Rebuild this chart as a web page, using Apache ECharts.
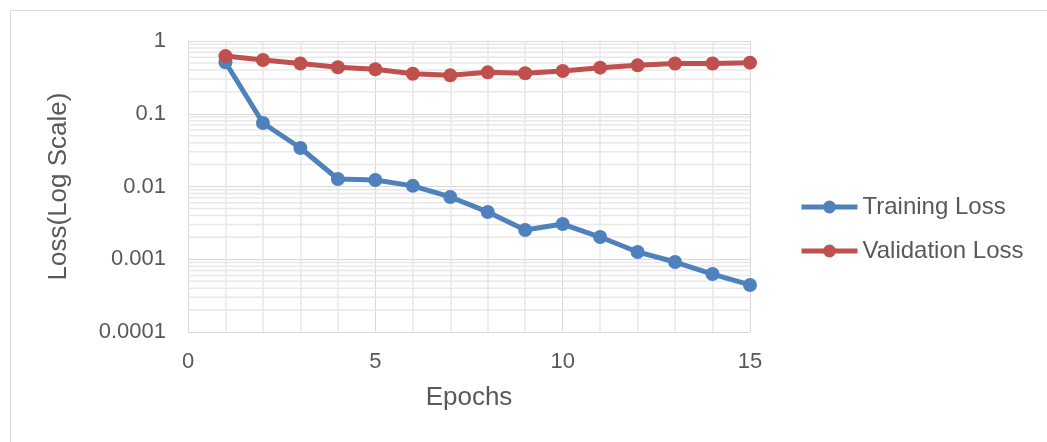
<!DOCTYPE html>
<html>
<head>
<meta charset="utf-8">
<script src="https://cdn.jsdelivr.net/npm/echarts@6/dist/echarts.min.js"></script>
<style>
html,body{margin:0;padding:0;background:#fff;}
#frame{position:absolute;left:10px;top:10px;width:1037px;height:432px;border-top:1px solid #d9d9d9;border-left:1px solid #d9d9d9;}
#chart{position:absolute;left:0;top:0;width:1047px;height:442px;}
</style>
</head>
<body>
<div id="frame"></div>
<div id="chart"></div>
<script>
var epochs = [1,2,3,4,5,6,7,8,9,10,11,12,13,14,15];
var trainingLoss = [0.51,0.0746,0.0338,0.0127,0.0123,0.0102,0.00718,0.00447,0.00252,0.00305,0.00202,0.00126,0.000916,0.000626,0.000443];
var validationLoss = [0.62,0.548,0.49,0.435,0.408,0.355,0.337,0.371,0.36,0.387,0.43,0.463,0.49,0.49,0.504];
var yTickValues = [0.0001,0.001,0.01,0.1,1];
var yTickLabels = ['0.0001','0.001','0.01','0.1','1'];
var xTickLabels = ['0','5','10','15'];

var textColor = '#595959';
var fontFamily = '"Liberation Sans", Arial, sans-serif';
var X_MIN = 0, X_MAX = 15;

// minor log gridlines at 2..9 x 10^k within each decade
var minorGrid = [];
for (var d = 0; d < yTickValues.length - 1; d++) {
  for (var m = 2; m <= 9; m++) {
    minorGrid.push([X_MIN, yTickValues[d] * m]);
  }
}

function pair(xs, ys) { return xs.map(function (x, i) { return [x, ys[i]]; }); }

var chart = echarts.init(document.getElementById('chart'), null, { renderer: 'canvas' });
chart.setOption({
  backgroundColor: 'transparent',
  animation: false,
  textStyle: { fontFamily: fontFamily, color: textColor },
  grid: { left: 188, right: 297, top: 41, bottom: 110, containLabel: false },
  legend: {
    orient: 'vertical',
    left: 799,
    top: 195,
    padding: 0,
    itemWidth: 56,
    itemHeight: 16,
    itemGap: 20,
    data: ['Training Loss', 'Validation Loss'],
    lineStyle: { width: 5 },
    textStyle: { fontSize: 24, color: textColor, fontFamily: fontFamily }
  },
  xAxis: {
    type: 'value',
    min: X_MIN,
    max: X_MAX,
    interval: 5,
    name: 'Epochs',
    nameLocation: 'middle',
    nameGap: 53,
    nameTextStyle: { fontSize: 26, color: textColor, fontFamily: fontFamily },
    axisLine: { show: false },
    axisTick: { show: false },
    axisLabel: {
      fontSize: 22, color: textColor, margin: 19,
      formatter: function (v) { var i = Math.round(v / 5); return xTickLabels[i] !== undefined ? xTickLabels[i] : String(v); }
    },
    splitLine: { show: true, lineStyle: { color: '#d9d9d9', width: 1 } },
    minorTick: { show: false, splitNumber: 5 },
    minorSplitLine: { show: true, lineStyle: { color: '#e8e8e8', width: 1.5 } }
  },
  yAxis: {
    type: 'log',
    logBase: 10,
    min: 0.0001,
    max: 1,
    name: 'Loss(Log Scale)',
    nameLocation: 'middle',
    nameGap: 116,
    nameTextStyle: { fontSize: 26, color: textColor, fontFamily: fontFamily },
    axisLine: { show: false },
    axisTick: { show: false },
    axisLabel: {
      fontSize: 22, color: textColor, margin: 22,
      formatter: function (v) {
        for (var i = 0; i < yTickValues.length; i++) {
          if (Math.abs(Math.log10(v) - Math.log10(yTickValues[i])) < 1e-6) return yTickLabels[i];
        }
        return '';
      }
    },
    splitLine: { show: true, lineStyle: { color: '#d9d9d9', width: 1 } }
  },
  series: [
    {
      name: 'Minor gridlines',
      type: 'custom',
      silent: true,
      z: 0,
      data: minorGrid,
      renderItem: function (params, api) {
        var v = api.value(1);
        var p1 = api.coord([X_MIN, v]);
        var p2 = api.coord([X_MAX, v]);
        return {
          type: 'line',
          shape: { x1: p1[0], y1: p1[1], x2: p2[0], y2: p2[1] },
          style: { stroke: '#e8e8e8', lineWidth: 1.5 }
        };
      }
    },
    {
      name: 'Training Loss',
      type: 'line',
      data: pair(epochs, trainingLoss),
      symbol: 'circle',
      symbolSize: 14,
      z: 3,
      itemStyle: { color: '#4f81bd' },
      lineStyle: { color: '#4f81bd', width: 5 }
    },
    {
      name: 'Validation Loss',
      type: 'line',
      data: pair(epochs, validationLoss),
      symbol: 'circle',
      symbolSize: 14,
      z: 4,
      itemStyle: { color: '#c0504d' },
      lineStyle: { color: '#c0504d', width: 5 }
    }
  ]
});
</script>
</body>
</html>
